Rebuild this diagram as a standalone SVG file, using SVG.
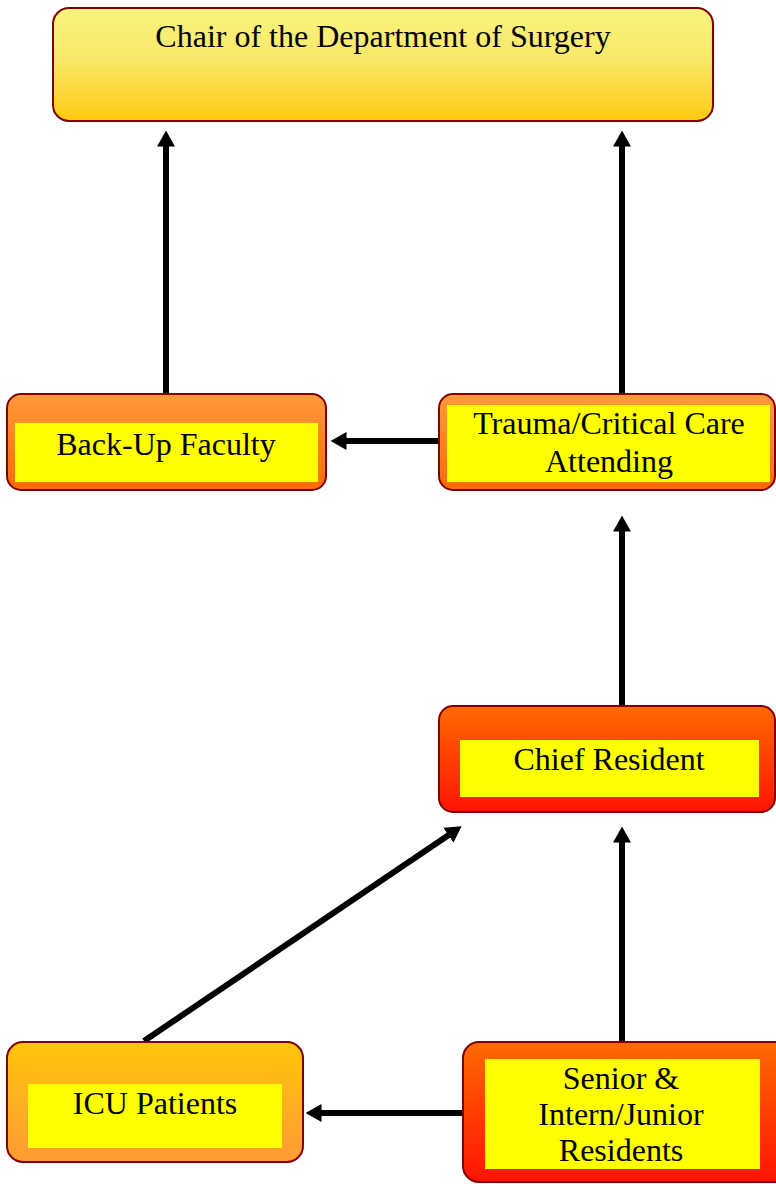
<svg xmlns="http://www.w3.org/2000/svg" width="776" height="1184" viewBox="0 0 776 1184">
  <defs>
    <linearGradient id="gChair" x1="0" y1="0" x2="0" y2="1">
      <stop offset="0" stop-color="#F8F47E"/>
      <stop offset="0.45" stop-color="#F9E86A"/>
      <stop offset="1" stop-color="#FFCA10"/>
    </linearGradient>
    <linearGradient id="gOrange" x1="0" y1="0" x2="0" y2="1">
      <stop offset="0" stop-color="#FF9A3C"/>
      <stop offset="1" stop-color="#FF6A08"/>
    </linearGradient>
    <linearGradient id="gRed" x1="0" y1="0" x2="0" y2="1">
      <stop offset="0" stop-color="#FF6A00"/>
      <stop offset="1" stop-color="#FF1400"/>
    </linearGradient>
    <linearGradient id="gGold" x1="0" y1="0" x2="0" y2="1">
      <stop offset="0" stop-color="#FFC60C"/>
      <stop offset="1" stop-color="#FF9A34"/>
    </linearGradient>
    <!-- solid arrowhead, 16 long x 18 wide; its base sits on the line end -->
    <marker id="arrow" markerUnits="userSpaceOnUse" markerWidth="16" markerHeight="18" viewBox="0 0 16 18" refX="0.5" refY="9" orient="auto">
      <path d="M0,0 L16,9 L0,18 Z" fill="#000"/>
    </marker>
    <style>
      .box { stroke: #800000; stroke-width: 2; }
      .inner { fill: #FFFF00; }
      .label { font-family: "Liberation Serif", "Times New Roman", serif; font-size: 32px; fill: #000; text-anchor: middle; }
      .conn { stroke: #000; stroke-width: 6; fill: none; marker-end: url(#arrow); }
    </style>
  </defs>

  <g id="connectors">
    <line class="conn" x1="166" y1="394" x2="166" y2="146"/>
    <line class="conn" x1="622" y1="394" x2="622" y2="146"/>
    <line class="conn" x1="439" y1="441" x2="346" y2="441"/>
    <line class="conn" x1="622" y1="706" x2="622" y2="531"/>
    <line class="conn" x1="622" y1="1042" x2="622" y2="842"/>
    <line class="conn" x1="463" y1="1113" x2="321" y2="1113"/>
    <line class="conn" x1="144" y1="1041" x2="448.75" y2="834.96"/>
  </g>

  <g id="chair">
    <rect class="box" x="53" y="8" width="660" height="113" rx="16" fill="url(#gChair)"/>
    <text class="label" x="383" y="47">Chair of the Department of Surgery</text>
  </g>

  <g id="backup-faculty">
    <rect class="box" x="7" y="394" width="319" height="96" rx="14" fill="url(#gOrange)"/>
    <rect class="inner" x="15" y="423" width="303" height="59"/>
    <text class="label" x="166" y="455">Back-Up Faculty</text>
  </g>

  <g id="trauma-attending">
    <rect class="box" x="439" y="394" width="336" height="96" rx="14" fill="url(#gOrange)"/>
    <rect class="inner" x="447" y="405" width="323" height="77"/>
    <text class="label" x="609" y="434">Trauma/Critical Care</text>
    <text class="label" x="609" y="472">Attending</text>
  </g>

  <g id="chief-resident">
    <rect class="box" x="439" y="706" width="336" height="106" rx="14" fill="url(#gRed)"/>
    <rect class="inner" x="460" y="740" width="299" height="57"/>
    <text class="label" x="609" y="770">Chief Resident</text>
  </g>

  <g id="icu-patients">
    <rect class="box" x="7" y="1042" width="296" height="120" rx="16" fill="url(#gGold)"/>
    <rect class="inner" x="28" y="1084" width="254" height="64"/>
    <text class="label" x="155" y="1114">ICU Patients</text>
  </g>

  <g id="residents">
    <rect class="box" x="463" y="1042" width="330" height="140" rx="16" fill="url(#gRed)"/>
    <rect class="inner" x="485" y="1059" width="275" height="110"/>
    <text class="label" x="621" y="1089">Senior &amp;</text>
    <text class="label" x="621" y="1125">Intern/Junior</text>
    <text class="label" x="621" y="1161">Residents</text>
  </g>
</svg>
